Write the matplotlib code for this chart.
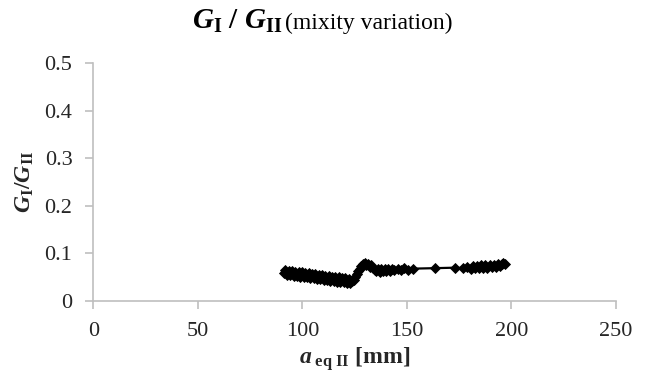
import matplotlib
matplotlib.use("Agg")
import matplotlib.pyplot as plt

# Crack length (mm) and G_I/G_II ratio
a_eq = [91.0, 91.8, 92.6, 93.4, 94.2, 95.0, 95.8, 96.6, 97.4, 98.2, 99.0, 99.8,
        100.6, 101.4, 102.2, 103.0, 103.8, 104.6, 105.4, 106.2, 107.0, 107.8,
        108.6, 109.4, 110.2, 111.0, 111.8, 112.6, 113.4, 114.2, 115.0, 115.8,
        116.6, 117.4, 118.2, 119.0, 119.8, 120.6, 121.4, 122.2, 123.0, 123.8,
        124.5, 125.3, 126.0, 126.8, 127.5, 128.2, 129.0, 129.8, 130.6, 131.4,
        132.2, 133.0, 133.8, 134.6, 135.4, 136.2, 137.0, 137.8, 138.6, 139.4,
        140.2, 141.0, 142.0, 143.0, 144.0, 145.5, 147.0, 148.5, 150.5, 153.0,
        163.4, 173.0, 177.0, 178.8, 180.5, 181.5, 182.5, 183.5, 184.5, 185.5,
        186.5, 187.5, 188.5, 189.5, 190.5, 191.5, 192.5, 193.5, 194.5, 195.3,
        196.0, 196.8]
ratio = [0.0590, 0.0646, 0.0551, 0.0637, 0.0542, 0.0627, 0.0532, 0.0618, 0.0523,
         0.0608, 0.0513, 0.0599, 0.0504, 0.0589, 0.0495, 0.0580, 0.0485, 0.0570,
         0.0476, 0.0561, 0.0466, 0.0551, 0.0457, 0.0542, 0.0447, 0.0532, 0.0438,
         0.0523, 0.0428, 0.0513, 0.0419, 0.0504, 0.0409, 0.0494, 0.0400, 0.0485,
         0.0390, 0.0475, 0.0381, 0.0466, 0.0371, 0.0420,
         0.0450, 0.0500, 0.0560, 0.0620, 0.0680, 0.0730, 0.0770, 0.0790, 0.0750,
         0.0780, 0.0720, 0.0760, 0.0690, 0.0660, 0.0620, 0.0670, 0.0610, 0.0670,
         0.0620, 0.0680, 0.0630, 0.0670, 0.0640, 0.0680, 0.0650, 0.0680, 0.0660,
         0.0690, 0.0660, 0.0680,
         0.0690, 0.0700, 0.0690, 0.0720, 0.0680, 0.0740, 0.0690, 0.0740, 0.0690,
         0.0750, 0.0700, 0.0750, 0.0700, 0.0760, 0.0710, 0.0760, 0.0720, 0.0770,
         0.0740, 0.0780, 0.0800, 0.0780]

x_ticks = [0, 50, 100, 150, 200, 250]
y_ticks = [0, 0.1, 0.2, 0.3, 0.4, 0.5]
y_tick_labels = ["0", "0.1", "0.2", "0.3", "0.4", "0.5"]

SERIF = "Liberation Serif"
plt.rcParams["font.family"] = SERIF
plt.rcParams["mathtext.fontset"] = "custom"
plt.rcParams["mathtext.rm"] = SERIF
plt.rcParams["mathtext.it"] = SERIF + ":italic"
plt.rcParams["mathtext.bf"] = SERIF + ":bold"
plt.rcParams["mathtext.bfit"] = SERIF + ":italic:bold"

fig = plt.figure(figsize=(6.49, 3.78), dpi=100)
ax = fig.add_axes([0.1438, 0.2037, 0.8054, 0.6296])

ax.plot(a_eq, ratio, color="black", lw=1.6, marker="D", ms=4.8,
        mfc="black", mec="black", mew=0.6, zorder=3)

ax.set_xlim(0, 250)
ax.set_ylim(0, 0.5)
ax.set_xticks(x_ticks)
ax.set_yticks(y_ticks)
ax.set_yticklabels(y_tick_labels)

axis_gray = "#bfbfbf"
for side in ("top", "right"):
    ax.spines[side].set_visible(False)
for side in ("left", "bottom"):
    ax.spines[side].set_color(axis_gray)
    ax.spines[side].set_linewidth(1.2)
ax.tick_params(axis="both", direction="out", length=6, width=1.2,
               color=axis_gray, labelsize=16, labelcolor="#262626")
ax.tick_params(axis="x", pad=9)
ax.tick_params(axis="y", pad=9)

ax.set_xlabel(r"$\mathbfit{a}_{\ \mathbf{eq\ II}}$ [mm]", fontsize=17,
              fontweight="bold", color="#262626", labelpad=3)
ax.set_ylabel(r"$\mathbfit{G}_{\mathbf{I}}\mathbf{/}\mathbfit{G}_{\mathbf{II}}$",
              fontsize=17, color="#262626", labelpad=6)

# Title: bold symbol part followed by a smaller plain description
fig.text(0.435, 0.923, r"$\mathbfit{G}_{\mathbf{I}}\ \mathbf{/}\ \mathbfit{G}_{\mathbf{II}}$",
         fontsize=21, ha="right", va="baseline", color="black")
fig.text(0.439, 0.923, "(mixity variation)", fontsize=17, ha="left",
         va="baseline", color="black")

fig.savefig("out.png", dpi=100)
